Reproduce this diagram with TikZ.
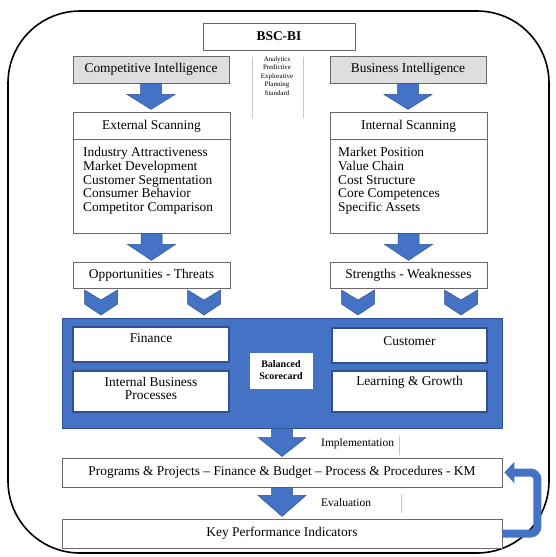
\documentclass[tikz,border=0pt]{standalone}
\usepackage{fontspec}
\setmainfont{Liberation Serif}
\usetikzlibrary{arrows.meta,calc}
\definecolor{bblue}{RGB}{68,114,196}
\definecolor{bdark}{RGB}{47,82,143}
\definecolor{boxline}{RGB}{105,105,105}
\definecolor{thinline}{RGB}{200,200,200}
\tikzset{
  box/.style={draw=boxline, line width=0.8pt, fill=white, inner sep=0pt},
  graybox/.style={box, fill=black!13},
  txt/.style={inner sep=0pt, font=\fontsize{13.4}{13.7}\selectfont},
  smalltxt/.style={inner sep=0pt, font=\fontsize{11.5}{12}\selectfont},
  tinytxt/.style={inner sep=0pt, align=center, font=\fontsize{6.9}{8.4}\selectfont},
  arrowfill/.style={fill=bblue, draw=bdark, line width=0.5pt},
  pics/downarrow/.style n args={2}{code={
    \filldraw[arrowfill] (-10.5,0) -- (-10.5,#1) -- (-24,#1) -- (0,#2) -- (24,#1) -- (10.5,#1) -- (10.5,0) -- cycle;}},
  pics/chev/.style={code={
    \filldraw[arrowfill] (-16.5,0) -- (0,10) -- (16.5,0) -- (16.5,14) -- (0,25) -- (-16.5,14) -- cycle;}}
}
\begin{document}
\begin{tikzpicture}[x=1pt,y=-1pt]
\useasboundingbox (0,0) rectangle (556,557);
\fill[white] (0,0) rectangle (556,557);
% outer frame
\draw[line width=1.6pt, rounded corners=72pt] (8,11) rectangle (549,553);

% top
\node[box, minimum width=152, minimum height=27, txt, font=\fontsize{13.4}{13.7}\selectfont\bfseries] (bsc) at (279,36.5) {BSC-BI};
\node[graybox, minimum width=156, minimum height=27, txt] (ci) at (151,69.5) {Competitive Intelligence};
\node[graybox, minimum width=156, minimum height=27, txt] (bi) at (408,69.5) {Business Intelligence};
\node[tinytxt] (mid) at (277,76) {Analytics\\Predictive\\Explorative\\Planning\\Standard};
\draw[thinline, line width=0.6pt] (252,57) coordinate (g1a) -- (252,118) coordinate (g1b);
\draw[thinline, line width=0.6pt] (303,57) coordinate (g2a) -- (303,118) coordinate (g2b);

% scanning boxes
\node[box, minimum width=157, minimum height=121] (ext) at (151.5,172.5) {};
\node[box, minimum width=157, minimum height=121] (int) at (408.5,172.5) {};
\draw[boxline, line width=0.8pt] (ext.west |- 0,139) -- (ext.east |- 0,139);
\draw[boxline, line width=0.8pt] (int.west |- 0,139) -- (int.east |- 0,139);
\node[txt] (extt) at (151.5,126) {External Scanning};
\node[txt] (intt) at (408.5,126) {Internal Scanning};
\foreach \t [count=\i] in {Industry Attractiveness, Market Development, Customer Segmentation, Consumer Behavior, Competitor Comparison}
  \node[txt, anchor=base west] (e\i) at (83,143+13.7*\i) {\t};
\foreach \t [count=\i] in {Market Position, Value Chain, Cost Structure, Core Competences, Specific Assets}
  \node[txt, anchor=base west] (n\i) at (338,143+13.7*\i) {\t};

\pic at (ci.south) {downarrow={11}{26}};
\pic at (bi.south) {downarrow={11}{26}};
\pic at (ext.south) {downarrow={11}{27}};
\pic at (int.south) {downarrow={11}{27}};

\node[box, minimum width=157, minimum height=26, txt] (ot) at (151.5,275) {Opportunities - Threats};
\node[box, minimum width=157, minimum height=26, txt] (sw) at (408.5,275) {Strengths - Weaknesses};

\pic at (101,290) {chev};
\pic at (204,290) {chev};
\pic at (358,290) {chev};
\pic at (461,290) {chev};

% balanced scorecard block
\node[fill=bblue, draw=bdark, line width=1pt, minimum width=440, minimum height=110, inner sep=0pt] (big) at (282,373) {};
\node[box, draw=bdark, line width=1.2pt, minimum width=156, minimum height=35] (fin) at (151,344.5) {};
\node[box, draw=bdark, line width=1.2pt, minimum width=156, minimum height=41] (ibp) at (151,391.5) {};
\node[box, draw=bdark, line width=1.2pt, minimum width=155, minimum height=35] (cus) at (409.5,345.5) {};
\node[box, draw=bdark, line width=1.2pt, minimum width=155, minimum height=41] (lg) at (409.5,391.5) {};
\node[txt] (fint) at (151,338) {Finance};
\node[txt, align=center] (ibpt) at (151,388.5) {Internal Business\\Processes};
\node[txt] (cust) at (409.5,341) {Customer};
\node[txt] (lgt) at (409.5,382) {Learning \& Growth};
\node[box, draw=white, minimum width=62, minimum height=35, align=center, font=\fontsize{10}{12}\selectfont\bfseries] (bs) at (281,370.5) {Balanced\\Scorecard};

% bottom
\pic at (big.south) {downarrow={9}{28}};
\node[smalltxt, anchor=west] (impl) at (321,444) {Implementation};
\draw[thinline, line width=0.6pt] (399,436) coordinate (g3a) -- (399,455) coordinate (g3b);
\node[box, minimum width=440, minimum height=29, txt] (prog) at (282,472.5) {Programs \& Projects -- Finance \& Budget -- Process \& Procedures - KM};
\pic at (prog.south) {downarrow={8}{29}};
\node[smalltxt, anchor=west] (eval) at (321,503) {Evaluation};
\draw[thinline, line width=0.6pt] (401,494) coordinate (g4a) -- (401,513) coordinate (g4b);
\node[box, minimum width=440, minimum height=29, txt] (kpi) at (282,533.5) {Key Performance Indicators};

\draw[bblue, line width=8pt, rounded corners=7pt, -{Triangle[length=10pt,width=21pt]}]
  (kpi.east) -- ++(35,0) |- ([xshift=2pt]prog.east);
\end{tikzpicture}
\end{document}
